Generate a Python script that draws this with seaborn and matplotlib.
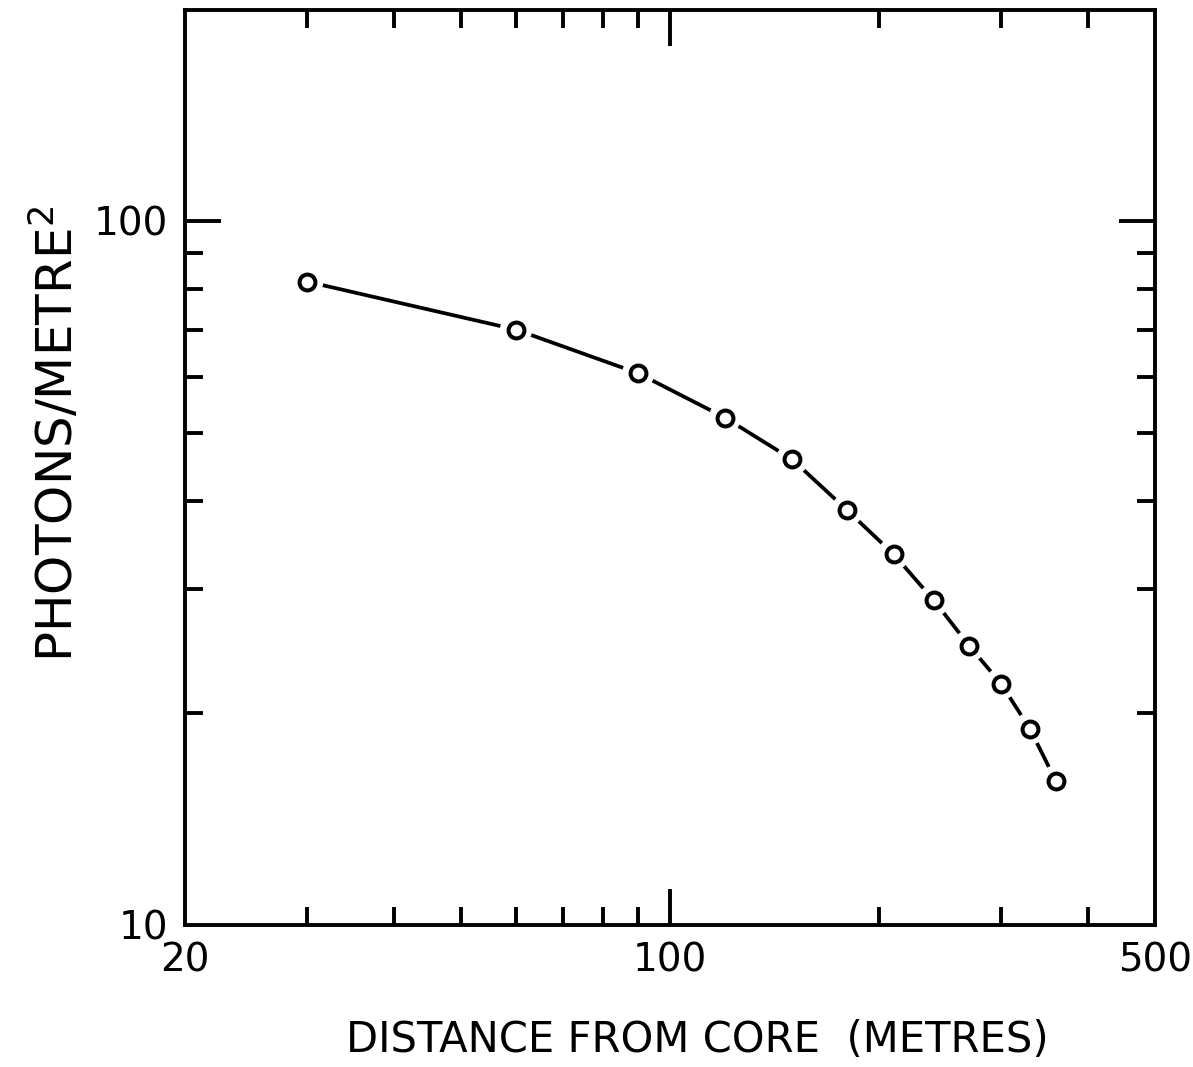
import numpy as np
import pandas as pd
import matplotlib
matplotlib.use("Agg")
import matplotlib.pyplot as plt
import seaborn as sns

# Data
distance_m = [30, 60, 90, 120, 150, 180, 210, 240, 270, 300, 330, 360]
photons_per_m2 = [81.9, 70.0, 60.7, 52.5, 45.8, 38.8, 33.6, 28.9, 24.9, 22.0, 19.0, 16.0]

x_minor = [30, 40, 50, 60, 70, 80, 90, 200, 300, 400]
x_ticklabels = {20: "20", 100: "100", 500: "500"}
y_minor = [20, 30, 40, 50, 60, 70, 80, 90]
y_ticklabels = {10: "10", 100: "100"}

df = pd.DataFrame({"distance": distance_m, "photons": photons_per_m2})

sns.set_theme(style="white")
plt.rcParams["font.family"] = ["DejaVu Sans"]
plt.rcParams["text.color"] = "black"
plt.rcParams["axes.labelcolor"] = "black"
plt.rcParams["xtick.color"] = "black"
plt.rcParams["ytick.color"] = "black"
fs_tick, fs_x, fs_y = 28, 30, 36

fig = plt.figure(figsize=(11.93, 10.67), dpi=100)
ax = fig.add_axes([185 / 1193, 1 - 925 / 1067, (1155 - 185) / 1193, (925 - 10) / 1067])

sns.lineplot(data=df, x="distance", y="photons", ax=ax, color="black",
             linewidth=2.7, zorder=2, estimator=None, sort=True)
# white halo leaves a gap between curve and markers
sns.scatterplot(data=df, x="distance", y="photons", ax=ax, s=540,
                color="white", edgecolor="none", zorder=3)
sns.scatterplot(data=df, x="distance", y="photons", ax=ax, s=130,
                facecolor="white", edgecolor="black", linewidth=2.9, zorder=4)

ax.set_xscale("log")
ax.set_yscale("log")
ax.set_xlim(20, 500)
ax.set_ylim(10, 199)

for s in ax.spines.values():
    s.set_visible(True)
    s.set_linewidth(2.8)
    s.set_color("black")

ax.set_xticks(list(x_ticklabels.keys()))
ax.set_xticklabels(list(x_ticklabels.values()))
ax.set_xticks(x_minor, minor=True)
ax.set_xticklabels([], minor=True)
ax.set_yticks(list(y_ticklabels.keys()))
ax.set_yticklabels(list(y_ticklabels.values()))
ax.set_yticks(y_minor, minor=True)
ax.set_yticklabels([], minor=True)

ax.tick_params(axis="both", which="major", direction="in", length=26, width=2.8,
               top=True, right=True, bottom=True, left=True,
               labelsize=fs_tick, pad=12, color="black", labelcolor="black")
ax.tick_params(axis="both", which="minor", direction="in", length=13, width=2.8,
               top=True, right=True, bottom=True, left=True, color="black")
for t in ax.xaxis.get_major_ticks():
    if t.get_loc() in (20, 500):
        t.tick1line.set_visible(False)
        t.tick2line.set_visible(False)
for t in ax.yaxis.get_major_ticks():
    if t.get_loc() == 10:
        t.tick1line.set_visible(False)
        t.tick2line.set_visible(False)

ax.set_xlabel("DISTANCE FROM CORE  (METRES)", fontsize=fs_x, color="black")
ax.set_ylabel("PHOTONS/METRE$^2$", fontsize=fs_y, color="black")
ax.xaxis.set_label_coords(0.528, -0.103)
ax.yaxis.set_label_coords(-0.105, 0.537)
ax.grid(False)
ax.set_facecolor("white")
fig.patch.set_facecolor("white")

fig.savefig("out.png", dpi=100, facecolor="white")
